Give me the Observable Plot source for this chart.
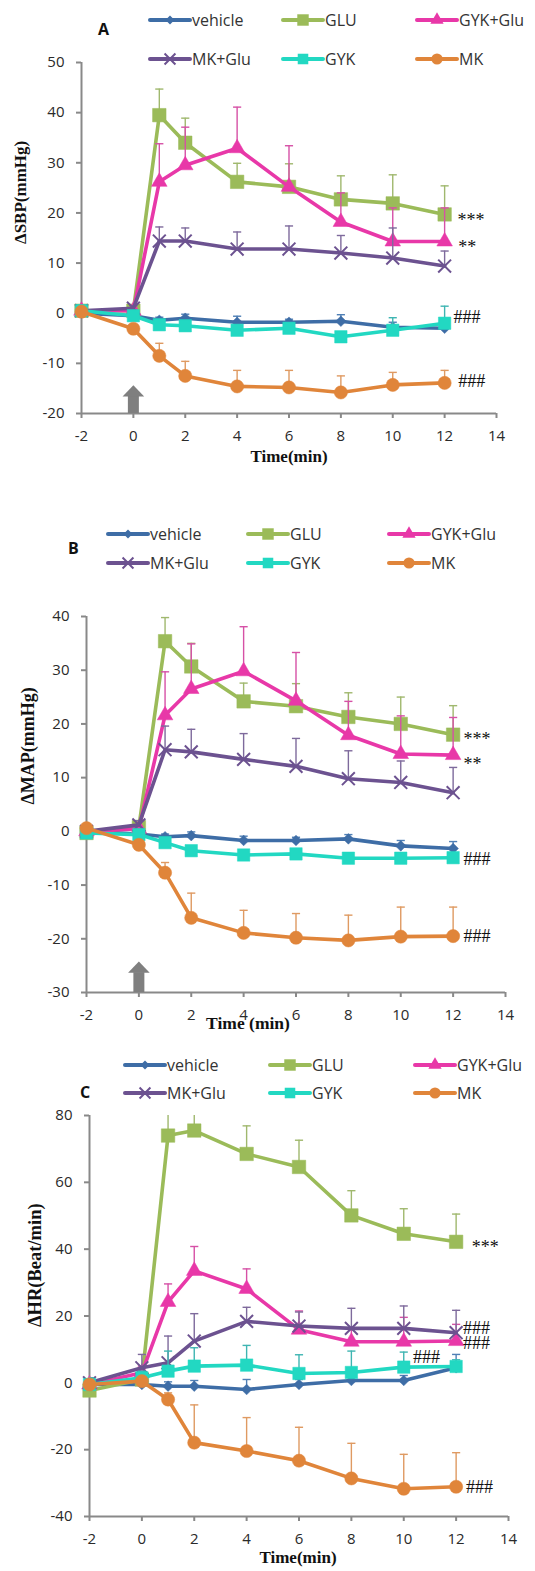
<!DOCTYPE html>
<html><head><meta charset="utf-8">
<script src="https://cdn.jsdelivr.net/npm/d3@7"></script>
<script src="https://cdn.jsdelivr.net/npm/@observablehq/plot@0.6"></script>
<style>
html,body{margin:0;padding:0;background:#fff;overflow:hidden;}
#root{position:relative;width:535px;height:1571px;background:#fff;}
.panel{position:absolute;left:0;}
.legend-item{position:absolute;display:flex;align-items:center;font-family:"Open Sans";font-size:16px;color:#333;white-space:nowrap;height:16px;line-height:16px;}
.legend-item svg{display:block;overflow:visible;}
.plabel{position:absolute;font-family:"Open Sans";font-weight:bold;font-size:16px;color:#111;line-height:16px;}
</style></head><body><div id="root"></div><script>
// ---------- data ----------
const times = [-2, 0, 1, 2, 4, 6, 8, 10, 12];
const xTicks = [-2, 0, 2, 4, 6, 8, 10, 12, 14];
const seriesNames = ["vehicle", "GLU", "GYK+Glu", "MK+Glu", "GYK", "MK"];
const seriesColors = ["#3E6DA6", "#9BBB59", "#E838A8", "#6C5290", "#22D8C2", "#E0853A"];
const errColors = ["#4F7FB5", "#A0B86E", "#D651A6", "#7E6A9C", "#3FB5B2", "#DF9A62"];
const seriesSymbols = ["diamond2", "square", "triangle", "times", "square", "circle"];

// A: delta SBP (mmHg)
const sbpVehicle = [0.0, -0.5, -1.4, -1.0, -1.8, -1.8, -1.6, -2.8, -3.0];
const sbpVehicleErr = [0.4, 0.4, 0.6, 0.8, 1.2, 0.6, 1.3, 1.0, 0.8];
const sbpGlu = [0.5, 0.5, 39.5, 34.0, 26.2, 25.2, 22.7, 21.9, 19.7];
const sbpGluErr = [0.5, 0.5, 5.2, 4.9, 3.7, 4.6, 4.7, 5.7, 5.7];
const sbpGykGlu = [0.5, 0.5, 26.2, 29.5, 32.9, 25.2, 18.2, 14.3, 14.3];
const sbpGykGluErr = [0.5, 0.5, 7.6, 7.6, 8.2, 8.2, 5.8, 6.7, 6.7];
const sbpMkGlu = [0.5, 1.0, 14.4, 14.4, 12.8, 12.8, 12.0, 11.0, 9.4];
const sbpMkGluErr = [0.3, 0.5, 2.8, 2.6, 3.4, 4.6, 3.5, 6.0, 3.0];
const sbpGyk = [0.5, -0.5, -2.3, -2.5, -3.4, -3.0, -4.7, -3.4, -2.0];
const sbpGykErr = [0.4, 0.4, 0.5, 0.5, 0.6, 0.5, 1.0, 2.5, 3.4];
const sbpMk = [0.3, -3.1, -8.5, -12.5, -14.6, -14.8, -15.8, -14.3, -13.9];
const sbpMkErr = [0.3, 0.5, 2.5, 2.9, 3.2, 3.4, 3.3, 2.5, 2.5];

// B: delta MAP (mmHg)
const mapVehicle = [0.0, -0.5, -1.0, -0.8, -1.7, -1.7, -1.4, -2.7, -3.2];
const mapVehicleErr = [0.4, 0.4, 0.5, 0.7, 0.8, 0.6, 0.8, 1.0, 1.3];
const mapGlu = [-0.3, 0.8, 35.4, 30.7, 24.2, 23.3, 21.3, 20.0, 18.0];
const mapGluErr = [0.3, 0.5, 4.4, 4.3, 3.4, 4.2, 4.5, 5.0, 5.4];
const mapGykGlu = [0.0, 0.5, 21.6, 26.5, 29.8, 24.3, 17.9, 14.4, 14.2];
const mapGykGluErr = [0.3, 0.5, 8.1, 8.4, 8.3, 9.0, 6.3, 7.1, 7.0];
const mapMkGlu = [0.0, 1.2, 15.2, 14.8, 13.4, 12.1, 9.8, 9.1, 7.2];
const mapMkGluErr = [0.3, 0.8, 4.4, 4.2, 4.8, 5.2, 5.2, 4.0, 4.7];
const mapGyk = [-0.3, -0.6, -2.1, -3.6, -4.4, -4.2, -5.0, -5.0, -4.9];
const mapGykErr = [0.3, 0.4, 0.5, 0.6, 0.6, 0.6, 0.7, 0.7, 0.7];
const mapMk = [0.6, -2.5, -7.7, -16.1, -18.9, -19.8, -20.3, -19.6, -19.5];
const mapMkErr = [0.3, 0.5, 1.9, 4.6, 4.2, 4.5, 4.7, 5.5, 5.4];

// C: delta HR (beat/min)
const hrVehicle = [-0.5, -0.5, -1.0, -1.0, -2.0, -0.5, 0.7, 0.7, 4.5];
const hrVehicleErr = [0.5, 0.6, 1.3, 1.7, 3.0, 1.5, 1.5, 1.5, 4.0];
const hrGlu = [-2.3, 1.0, 74.0, 75.5, 68.5, 64.6, 50.1, 44.6, 42.2];
const hrGluErr = [2.0, 2.0, 10.0, 10.0, 8.4, 8.0, 7.4, 7.5, 8.3];
const hrGykGlu = [-0.5, 3.0, 24.2, 33.5, 28.1, 15.9, 12.3, 12.3, 12.5];
const hrGykGluErr = [0.5, 2.0, 5.4, 7.3, 6.0, 5.6, 3.8, 7.3, 5.0];
const hrMkGlu = [0.0, 4.5, 6.0, 12.5, 18.4, 17.0, 16.3, 16.3, 15.0];
const hrMkGluErr = [1.5, 4.0, 8.0, 8.2, 4.2, 4.2, 6.0, 6.7, 6.7];
const hrGyk = [-0.5, 1.5, 3.5, 5.0, 5.3, 2.8, 3.1, 4.7, 4.9];
const hrGykErr = [2.0, 2.0, 6.0, 5.5, 5.9, 5.6, 6.4, 4.5, 2.0];
const hrMk = [-0.5, 0.5, -5.0, -17.9, -20.4, -23.3, -28.6, -31.7, -31.1];
const hrMkErr = [1.5, 1.0, 2.0, 11.3, 10.0, 10.0, 10.5, 10.3, 10.2];

// injection arrows and significance marks
const arrowA = [{t: 0, y1: -20, y2: -16.6}];
const arrowB = [{t: 0, y1: -30, y2: -26.3}];
const notesA = [{t: 12.5, v: 19.6, s: "***"}, {t: 12.53, v: 14.1, s: "**"}, {t: 12.34, v: -0.8, s: "###"}, {t: 12.53, v: -13.6, s: "###"}];
const notesB = [{t: 12.4, v: 18.0, s: "***"}, {t: 12.4, v: 13.5, s: "**"}, {t: 12.4, v: -5.1, s: "###"}, {t: 12.4, v: -19.6, s: "###"}];
const notesC = [{t: 12.6, v: 42.0, s: "***"}, {t: 12.26, v: 16.4, s: "###"}, {t: 12.26, v: 11.95, s: "###"}, {t: 10.35, v: 7.8, s: "###"}, {t: 12.38, v: -31.2, s: "###"}];

// ---------- drawing ----------
const axisGray = "#898989";
const symR = [4.8, 7.6, 5.8, 5.9, 7.0, 6.6];
const capSymbol = {draw(ctx, size) { const w = Math.sqrt(size) / 2; ctx.moveTo(-w, 0); ctx.lineTo(w, 0); }};
const headSymbol = {draw(ctx, size) { const s = Math.sqrt(size); ctx.moveTo(-s / 2, 0); ctx.lineTo(s / 2, 0); ctx.lineTo(0, -s * 0.52); ctx.closePath(); }};

const panels = [
  {label: "A", labelPos: [98, 21], top: 0, height: 470, mt: 62, mb: 57, ml: 81, mr: 39,
   yDomain: [-20, 50], yTicks: d3.range(-20, 51, 10),
   values: [sbpVehicle, sbpGlu, sbpGykGlu, sbpMkGlu, sbpGyk, sbpMk],
   errs: [sbpVehicleErr, sbpGluErr, sbpGykGluErr, sbpMkGluErr, sbpGykErr, sbpMkErr],
   yLabel: "ΔSBP(mmHg)", yl: [-61, 6, 17], xLabel: "Time(min)", xl: [0, 48, 17],
   arrow: arrowA, notes: notesA, rows: [20, 59], cols: [150, 283, 417]},
  {label: "B", labelPos: [68, 540], top: 480, height: 560, mt: 136, mb: 48, ml: 86, mr: 30,
   yDomain: [-30, 40], yTicks: d3.range(-30, 41, 10),
   values: [mapVehicle, mapGlu, mapGykGlu, mapMkGlu, mapGyk, mapMk],
   errs: [mapVehicleErr, mapGluErr, mapGykGluErr, mapMkGluErr, mapGykErr, mapMkErr],
   yLabel: "ΔMAP(mmHg)", yl: [-58, 0, 18], xLabel: "Time (min)", xl: [-48, 36, 17.5],
   arrow: arrowB, notes: notesB, rows: [534, 563], cols: [108, 248, 389]},
  {label: "C", labelPos: [80, 1084], top: 1040, height: 531, mt: 75, mb: 55, ml: 89, mr: 27,
   yDomain: [-40, 80], yTicks: d3.range(-40, 81, 20),
   values: [hrVehicle, hrGlu, hrGykGlu, hrMkGlu, hrGyk, hrMk],
   errs: [hrVehicleErr, hrGluErr, hrGykGluErr, hrMkGluErr, hrGykErr, hrMkErr],
   yLabel: "ΔHR(Beat/min)", yl: [-54, 11, 18.5], xLabel: "Time(min)", xl: [-1, 46, 17],
   arrow: [], notes: notesC, rows: [1065, 1093], cols: [125, 270, 415]}
];

const root = document.getElementById("root");

function makeSwatch(i) {
  const svg = d3.create("svg").attr("width", 42).attr("height", 16);
  svg.append("line").attr("x1", 1).attr("x2", 41).attr("y1", 8).attr("y2", 8)
    .attr("stroke", seriesColors[i]).attr("stroke-width", 4).attr("stroke-linecap", "round");
  const symMap = {diamond2: d3.symbolDiamond2, square: d3.symbolSquare, triangle: d3.symbolTriangle, times: d3.symbolTimes, circle: d3.symbolCircle};
  const r = symR[i] * 0.85;
  const p = svg.append("path").attr("transform", "translate(21,8)")
    .attr("d", d3.symbol(symMap[seriesSymbols[i]], Math.PI * r * r)());
  if (seriesSymbols[i] === "times") p.attr("fill", "none").attr("stroke", seriesColors[i]).attr("stroke-width", 2);
  else p.attr("fill", seriesColors[i]);
  return svg.node();
}

for (const P of panels) {
  const rows = [];
  P.values.forEach((vals, i) => vals.forEach((v, j) => rows.push({s: i, t: times[j], v, top: v + P.errs[i][j]})));
  const marks = [
    Plot.axisX({ticks: xTicks, tickSize: 5, tickPadding: 12, stroke: axisGray, strokeWidth: 2, fill: "#2a2a2a", fontSize: 15, tickFormat: d => String(d), label: null}),
    Plot.axisY({ticks: P.yTicks, tickSize: 5, tickPadding: 12, stroke: axisGray, strokeWidth: 2, fill: "#2a2a2a", fontSize: 15, tickFormat: d => String(d), label: null}),
    Plot.ruleX([-2], {stroke: axisGray, strokeWidth: 2}),
    Plot.ruleY([P.yDomain[0]], {stroke: axisGray, strokeWidth: 2}),
    Plot.ruleX(P.arrow, {x: "t", y1: "y1", y2: "y2", stroke: "#7F7F7F", strokeWidth: 11}),
    Plot.dot(P.arrow, {x: "t", y: "y2", symbol: headSymbol, r: 12.2, fill: "#7F7F7F", stroke: "none"})
  ];
  for (let i = 0; i < seriesNames.length; i++) {
    const d = rows.filter(r => r.s === i);
    marks.push(Plot.ruleX(d, {x: "t", y1: "v", y2: "top", stroke: errColors[i], strokeWidth: 1.4, clip: true}));
    marks.push(Plot.dot(d, {x: "t", y: "top", symbol: capSymbol, r: 4.6, fill: "none", stroke: errColors[i], strokeWidth: 1.4, clip: true}));
    marks.push(Plot.line(d, {x: "t", y: "v", stroke: seriesColors[i], strokeWidth: 3.6, strokeLinejoin: "round"}));
    if (seriesSymbols[i] === "times")
      marks.push(Plot.dot(d, {x: "t", y: "v", symbol: "times", r: symR[i], fill: "none", stroke: seriesColors[i], strokeWidth: 2}));
    else
      marks.push(Plot.dot(d, {x: "t", y: "v", symbol: seriesSymbols[i], r: symR[i], fill: seriesColors[i], stroke: seriesColors[i], strokeWidth: 0.5}));
  }
  marks.push(Plot.text(P.notes.filter(n => n.s.startsWith("*")), {x: "t", y: "v", text: "s", textAnchor: "start", fontFamily: "Liberation Serif", fontSize: 18, fill: "#111", dy: 5}));
  marks.push(Plot.text(P.notes.filter(n => n.s.startsWith("#")), {x: "t", y: "v", text: "s", textAnchor: "start", fontFamily: "Liberation Serif", fontSize: 18, fill: "#111"}));
  marks.push(Plot.text([P.xLabel], {text: d => d, frameAnchor: "bottom", dx: P.xl[0], dy: P.xl[1], fontFamily: "Liberation Serif", fontWeight: "bold", fontSize: P.xl[2], fill: "#111"}));
  marks.push(Plot.text([P.yLabel], {text: d => d, frameAnchor: "left", rotate: -90, dx: P.yl[0], dy: P.yl[1], fontFamily: "Liberation Serif", fontWeight: "bold", fontSize: P.yl[2], fill: "#111"}));

  const chart = Plot.plot({
    width: 535, height: P.height,
    marginTop: P.mt, marginBottom: P.mb, marginLeft: P.ml, marginRight: P.mr,
    x: {domain: [-2, 14], axis: null},
    y: {domain: P.yDomain, axis: null},
    style: {fontFamily: "Open Sans", background: "transparent", overflow: "visible"},
    marks
  });
  chart.classList.add("panel");
  chart.style.top = P.top + "px";
  root.appendChild(chart);

  // legend
  P.rows.forEach((ry, r) => P.cols.forEach((cx, c) => {
    const i = r * 3 + c;
    const item = document.createElement("div");
    item.className = "legend-item";
    item.style.left = (cx - 1) + "px";
    item.style.top = (ry - 8) + "px";
    item.appendChild(makeSwatch(i));
    const span = document.createElement("span");
    span.textContent = seriesNames[i];
    span.style.marginLeft = "1px";
    item.appendChild(span);
    root.appendChild(item);
  }));
  const lab = document.createElement("div");
  lab.className = "plabel";
  lab.textContent = P.label;
  lab.style.left = P.labelPos[0] + "px";
  lab.style.top = P.labelPos[1] + "px";
  root.appendChild(lab);
}
</script></body></html>
